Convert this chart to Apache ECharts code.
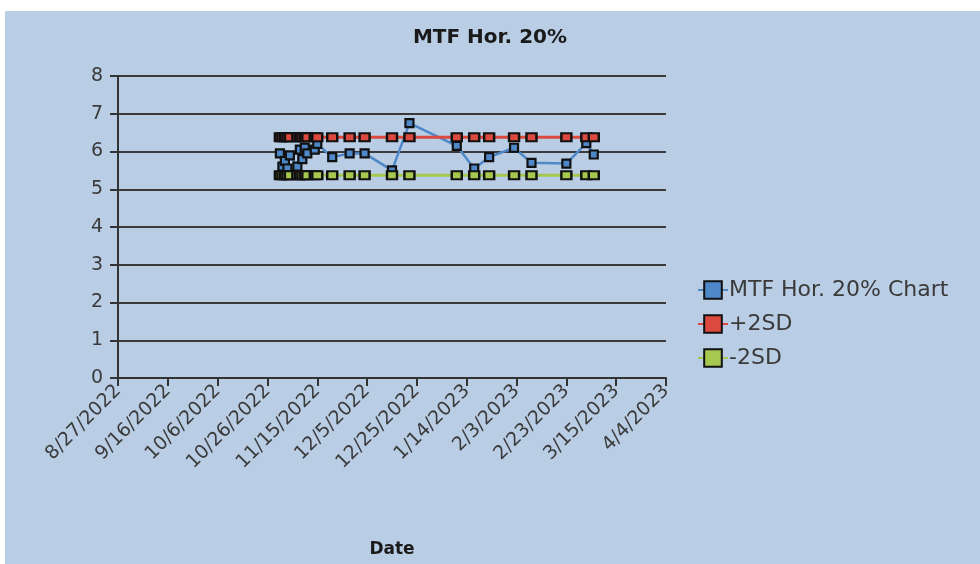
<!DOCTYPE html>
<html>
<head>
<meta charset="utf-8">
<title>MTF Hor. 20%</title>
<script src="https://cdn.jsdelivr.net/npm/echarts@6/dist/echarts.min.js"></script>
<style>
  html, body { margin: 0; padding: 0; background: #ffffff; }
  #chart { width: 980px; height: 564px; }
</style>
</head>
<body>
<div id="chart"></div>
<script>
// Measurement dates (QA sessions)
const dates = [
  '2022-10-31', '2022-11-01', '2022-11-02', '2022-11-03', '2022-11-04',
  '2022-11-07', '2022-11-08', '2022-11-09', '2022-11-10', '2022-11-11',
  '2022-11-14', '2022-11-15', '2022-11-21', '2022-11-28', '2022-12-04',
  '2022-12-15', '2022-12-22', '2023-01-10', '2023-01-17', '2023-01-23',
  '2023-02-02', '2023-02-09', '2023-02-23', '2023-03-03', '2023-03-06'
];

// MTF horizontal 20% values
const mtfValues = [
  5.95, 5.60, 5.75, 5.55, 5.90,
  5.60, 6.05, 5.80, 6.10, 5.95,
  6.05, 6.20, 5.85, 5.95, 5.95,
  5.50, 6.75, 6.15, 5.55, 5.85,
  6.10, 5.70, 5.68, 6.22, 5.92
];

// Control limits
const upperValues = [
  6.38, 6.38, 6.38, 6.38, 6.38, 6.38, 6.38, 6.38, 6.38, 6.38,
  6.38, 6.38, 6.38, 6.38, 6.38, 6.38, 6.38, 6.38, 6.38, 6.38,
  6.38, 6.38, 6.38, 6.38, 6.38
];
const lowerValues = [
  5.37, 5.37, 5.37, 5.37, 5.37, 5.37, 5.37, 5.37, 5.37, 5.37,
  5.37, 5.37, 5.37, 5.37, 5.37, 5.37, 5.37, 5.37, 5.37, 5.37,
  5.37, 5.37, 5.37, 5.37, 5.37
];

const seriesNames = ['MTF Hor. 20% Chart', '+2SD', '-2SD'];

// Date axis range (ticks every 20 days)
const axisStart = '2022-08-27';
const axisEnd = '2023-04-04';
const tickDays = 20;
const yTicks = [0, 1, 2, 3, 4, 5, 6, 7, 8];

const DAY = 86400000;
const startMs = Date.parse(axisStart);
const toDay = s => Math.round((Date.parse(s) - startMs) / DAY);
const fmtDate = d => {
  const t = new Date(startMs + d * DAY);
  return (t.getUTCMonth() + 1) + '/' + t.getUTCDate() + '/' + t.getUTCFullYear();
};
const pairs = vals => dates.map((s, i) => [toDay(s), vals[i]]);

const font = 'DejaVu Sans';
const textColor = '#3a3a3a';
const markerStyle = (fill) => ({ color: fill, borderColor: '#111', borderWidth: 2.2 });

const chart = echarts.init(document.getElementById('chart'), null, { renderer: 'canvas' });
chart.setOption({
  animation: false,
  backgroundColor: '#ffffff',
  graphic: [{
    type: 'rect', z: -10, silent: true,
    shape: { x: 5, y: 11, width: 975, height: 553 },
    style: { fill: '#b9cde5' }
  }],
  title: {
    text: 'MTF Hor. 20%',
    left: 'center', top: 23,
    textStyle: { fontFamily: font, fontSize: 20, fontWeight: 'bold', color: '#1a1a1a' }
  },
  legend: {
    orient: 'vertical',
    left: 692, top: 274,
    itemWidth: 30, itemHeight: 22, itemGap: 12,
    data: seriesNames,
    textStyle: { fontFamily: font, fontSize: 22, color: textColor, padding: [0, 0, 0, -4] }
  },
  grid: { left: 118, right: 314, top: 76, bottom: 186, containLabel: false },
  xAxis: {
    type: 'value',
    min: 0, max: toDay(axisEnd), interval: tickDays,
    name: 'Date', nameLocation: 'middle', nameGap: 163,
    nameTextStyle: { fontFamily: font, fontSize: 17, fontWeight: 'bold', color: '#1a1a1a' },
    axisLine: { show: true, lineStyle: { color: '#333', width: 2 } },
    axisTick: { show: true, length: 8, lineStyle: { color: '#333', width: 2 } },
    splitLine: { show: false },
    axisLabel: {
      rotate: 45, margin: 10,
      fontFamily: font, fontSize: 19, color: textColor,
      formatter: v => fmtDate(v)
    }
  },
  yAxis: {
    type: 'value',
    min: yTicks[0], max: yTicks[yTicks.length - 1], interval: 1,
    axisLine: { show: true, lineStyle: { color: '#333', width: 2 } },
    axisTick: { show: true, inside: false, length: 8, lineStyle: { color: '#333', width: 2 } },
    splitLine: { show: true, lineStyle: { color: '#3a3a3a', width: 2 } },
    axisLabel: { margin: 15, fontFamily: font, fontSize: 19, color: textColor }
  },
  series: [
    {
      name: seriesNames[0], type: 'line', data: pairs(mtfValues),
      symbol: 'rect', symbolSize: [8, 8],
      lineStyle: { color: '#4f88c8', width: 2.5 },
      itemStyle: markerStyle('#4f88c8'), z: 3
    },
    {
      name: seriesNames[1], type: 'line', data: pairs(upperValues),
      symbol: 'rect', symbolSize: [10, 8],
      lineStyle: { color: '#dc4a3f', width: 3 },
      itemStyle: markerStyle('#dc4a3f'), z: 4
    },
    {
      name: seriesNames[2], type: 'line', data: pairs(lowerValues),
      symbol: 'rect', symbolSize: [10, 8],
      lineStyle: { color: '#a6c84f', width: 3 },
      itemStyle: markerStyle('#a6c84f'), z: 4
    }
  ]
});
</script>
</body>
</html>
